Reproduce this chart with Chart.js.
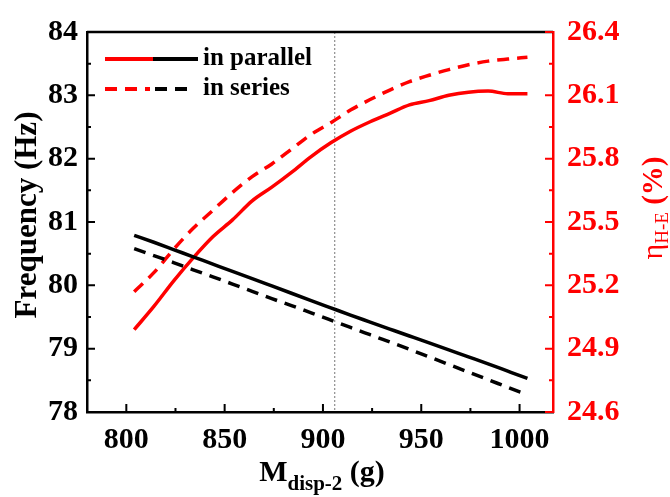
<!DOCTYPE html>
<html>
<head>
<meta charset="utf-8">
<script src="https://cdn.jsdelivr.net/npm/chart.js@4.4.0/dist/chart.umd.min.js"></script>
<style>
  html, body { margin: 0; padding: 0; background: #fff; }
  #wrap { width: 670px; height: 497px; position: relative; }
</style>
</head>
<body>
<div id="wrap"><canvas id="cv"></canvas></div>
<script>
//displacement mass (g)
var massG = [804, 814, 824, 834, 844, 854, 864, 874, 884, 894, 904, 914, 924, 934, 944, 954, 964, 974, 984, 994, 1004];

//resonant frequency (Hz)
var freqParallel = [80.79, 80.68, 80.565, 80.45, 80.335, 80.22, 80.105, 79.99, 79.875, 79.76, 79.645, 79.53, 79.42, 79.31, 79.20, 79.09, 78.98, 78.87, 78.76, 78.645, 78.53];
var freqSeries   = [80.58, 80.47, 80.36, 80.245, 80.135, 80.02, 79.905, 79.79, 79.68, 79.565, 79.45, 79.335, 79.22, 79.105, 78.99, 78.87, 78.75, 78.63, 78.51, 78.39, 78.27];

//harvesting efficiency (%)
var effParallel = [24.99, 25.10, 25.22, 25.33, 25.43, 25.51, 25.60, 25.665, 25.735, 25.81, 25.875, 25.93, 25.975, 26.015, 26.055, 26.075, 26.10, 26.115, 26.12, 26.108, 26.108];
var effSeries   = [25.17, 25.26, 25.37, 25.47, 25.555, 25.64, 25.715, 25.775, 25.845, 25.915, 25.97, 26.03, 26.08, 26.125, 26.165, 26.195, 26.222, 26.245, 26.262, 26.272, 26.28];

//tick labels
var massTicks = [800, 850, 900, 950, 1000];
var freqTicks = [78, 79, 80, 81, 82, 83, 84];
var effTicks  = [24.6, 24.9, 25.2, 25.5, 25.8, 26.1, 26.4];

//marker for the optimum mass
var markMass = 906;

var SERIF = "'Liberation Serif', 'Times New Roman', serif";
var RED = "#ff0000";

//pair x and y arrays into points
toPoints = function( xs, ys ){
    var pts = [];
    for( var i = 0; i < xs.length; i++ )
        pts.push( {x: xs[i], y: ys[i]} );
    return pts;
}

//fixed tick lists
setTicks = function( list ){
    return function( scale ){
        scale.ticks = list.map( function(v){ return {value: v}; } );
    };
}

//inward tick marks, frame, marker line, titles and legend
var decor = {
    id: 'decor',
    beforeDatasetsDraw: function( chart ){
        var ctx = chart.ctx, a = chart.chartArea;
        var px = chart.scales.x.getPixelForValue( markMass );
        ctx.save();
        ctx.strokeStyle = "#777";
        ctx.lineWidth = 1;
        ctx.setLineDash( [2, 2] );
        ctx.beginPath();
        ctx.moveTo( px, a.top );
        ctx.lineTo( px, a.bottom );
        ctx.stroke();
        ctx.restore();
    },
    afterDraw: function( chart ){
        var ctx = chart.ctx, a = chart.chartArea;
        var sx = chart.scales.x, sy = chart.scales.y, sy1 = chart.scales.y1;
        var i, p;
        ctx.save();

        //top frame line
        ctx.strokeStyle = "#000";
        ctx.lineWidth = 2.5;
        ctx.beginPath();
        ctx.moveTo( a.left, a.top );
        ctx.lineTo( a.right, a.top );
        ctx.stroke();

        //bottom ticks
        ctx.lineWidth = 2;
        ctx.beginPath();
        for( i = 0; i < massTicks.length; i++ ){
            p = sx.getPixelForValue( massTicks[i] );
            ctx.moveTo( p, a.bottom ); ctx.lineTo( p, a.bottom - 8 );
            p = sx.getPixelForValue( massTicks[i] + 25 );
            if( p < a.right - 2 ){ ctx.moveTo( p, a.bottom ); ctx.lineTo( p, a.bottom - 4 ); }
        }
        //left ticks
        for( i = 0; i < freqTicks.length; i++ ){
            p = sy.getPixelForValue( freqTicks[i] );
            ctx.moveTo( a.left, p ); ctx.lineTo( a.left + 8, p );
            if( i < freqTicks.length - 1 ){
                p = sy.getPixelForValue( freqTicks[i] + 0.5 );
                ctx.moveTo( a.left, p ); ctx.lineTo( a.left + 4, p );
            }
        }
        ctx.stroke();

        //right ticks
        ctx.strokeStyle = RED;
        ctx.beginPath();
        for( i = 0; i < effTicks.length; i++ ){
            p = sy1.getPixelForValue( effTicks[i] );
            ctx.moveTo( a.right, p ); ctx.lineTo( a.right - 8, p );
            if( i < effTicks.length - 1 ){
                p = sy1.getPixelForValue( effTicks[i] + 0.15 );
                ctx.moveTo( a.right, p ); ctx.lineTo( a.right - 4, p );
            }
        }
        ctx.stroke();

        //left axis title
        ctx.fillStyle = "#000";
        ctx.font = "bold 31px " + SERIF;
        ctx.textAlign = "center";
        ctx.textBaseline = "middle";
        ctx.save();
        ctx.translate( 28, 215 );
        ctx.rotate( -Math.PI / 2 );
        ctx.fillText( "Frequency (Hz)", 0, 0 );
        ctx.restore();

        //bottom axis title with subscript
        var parts = [
            {t: "M", f: "bold 30px " + SERIF, dy: 0},
            {t: "disp-2", f: "bold 21px " + SERIF, dy: 9},
            {t: " (g)", f: "bold 30px " + SERIF, dy: 0}
        ];
        drawParts( ctx, parts, (a.left + a.right) / 2 + 2, 481 );

        //right axis title with subscript
        ctx.fillStyle = RED;
        ctx.save();
        ctx.translate( 662, 208 );
        ctx.rotate( -Math.PI / 2 );
        parts = [
            {t: "\u03b7", f: "30px " + SERIF, dy: 0},
            {t: "H-E", f: "19px " + SERIF, dy: 6},
            {t: " (%)", f: "bold 29px " + SERIF, dy: 0}
        ];
        drawParts( ctx, parts, 0, 0 );
        ctx.restore();

        //legend
        ctx.lineWidth = 4;
        ctx.lineCap = "butt";
        legendLine( ctx, RED, [], 105, 153, 59 );
        legendLine( ctx, "#000", [], 153, 198, 59 );
        legendLine( ctx, RED, [12, 8], 105, 150, 89 );
        legendLine( ctx, "#000", [12, 8], 155, 195, 89 );
        ctx.fillStyle = "#000";
        ctx.font = "bold 25px " + SERIF;
        ctx.textAlign = "left";
        ctx.textBaseline = "middle";
        ctx.fillText( "in parallel", 203, 59 );
        ctx.fillText( "in series", 203, 89 );

        ctx.restore();
    }
};

//text run made of pieces with their own font and baseline shift, centred on cx
drawParts = function( ctx, parts, cx, by ){
    var total = 0, i;
    for( i = 0; i < parts.length; i++ ){
        ctx.font = parts[i].f;
        parts[i].w = ctx.measureText( parts[i].t ).width;
        total += parts[i].w;
    }
    var x = cx - total / 2;
    ctx.textAlign = "left";
    ctx.textBaseline = "alphabetic";
    for( i = 0; i < parts.length; i++ ){
        ctx.font = parts[i].f;
        ctx.fillText( parts[i].t, x, by + parts[i].dy );
        x += parts[i].w;
    }
}

legendLine = function( ctx, color, dash, x0, x1, y ){
    ctx.strokeStyle = color;
    ctx.setLineDash( dash );
    ctx.beginPath();
    ctx.moveTo( x0, y );
    ctx.lineTo( x1, y );
    ctx.stroke();
    ctx.setLineDash( [] );
}

var tickFont = { family: SERIF, size: 30, weight: 'bold' };

new Chart( document.getElementById("cv").getContext("2d"), {
    type: 'line',
    data: {
        datasets: [{
            label: "in parallel",
            yAxisID: 'y',
            borderColor: "#000",
            borderWidth: 3.5,
            data: toPoints( massG, freqParallel )
        },{
            label: "in series",
            yAxisID: 'y',
            borderColor: "#000",
            borderWidth: 3.5,
            borderDash: [12, 8],
            data: toPoints( massG, freqSeries )
        },{
            label: "in parallel",
            yAxisID: 'y1',
            borderColor: RED,
            borderWidth: 3.5,
            data: toPoints( massG, effParallel )
        },{
            label: "in series",
            yAxisID: 'y1',
            borderColor: RED,
            borderWidth: 3.5,
            borderDash: [12, 8],
            data: toPoints( massG, effSeries )
        }]
    },
    options: {
        responsive: true,
        maintainAspectRatio: false,
        animation: false,
        events: [],
        layout: { padding: { top: 21, left: 0, right: 0, bottom: 0 } },
        elements: {
            point: { radius: 0 },
            line: { tension: 0, cubicInterpolationMode: 'monotone', fill: false }
        },
        plugins: {
            legend: { display: false },
            tooltip: { enabled: false }
        },
        scales: {
            x: {
                type: 'linear',
                min: 780,
                max: 1017,
                afterBuildTicks: setTicks( massTicks ),
                afterFit: function( s ){ s.height = 85; },
                grid: { display: false, drawTicks: false },
                border: { display: true, color: "#000", width: 2.5 },
                ticks: {
                    font: tickFont, color: "#000", padding: 10, autoSkip: false, maxRotation: 0,
                    callback: function( value ){ return String( value ); }
                }
            },
            y: {
                type: 'linear',
                position: 'left',
                min: 78,
                max: 84,
                afterBuildTicks: setTicks( freqTicks ),
                afterFit: function( s ){ s.width = 87; },
                grid: { display: false, drawTicks: false },
                border: { display: true, color: "#000", width: 2.5 },
                ticks: { font: tickFont, color: "#000", padding: 9, autoSkip: false }
            },
            y1: {
                type: 'linear',
                position: 'right',
                min: 24.6,
                max: 26.4,
                afterBuildTicks: setTicks( effTicks ),
                afterFit: function( s ){ s.width = 117; },
                grid: { display: false, drawTicks: false },
                border: { display: true, color: RED, width: 2.5 },
                ticks: {
                    font: tickFont, color: RED, padding: 14, autoSkip: false,
                    callback: function( value ){ return value.toFixed(1); }
                }
            }
        }
    },
    plugins: [decor]
});
</script>
</body>
</html>
